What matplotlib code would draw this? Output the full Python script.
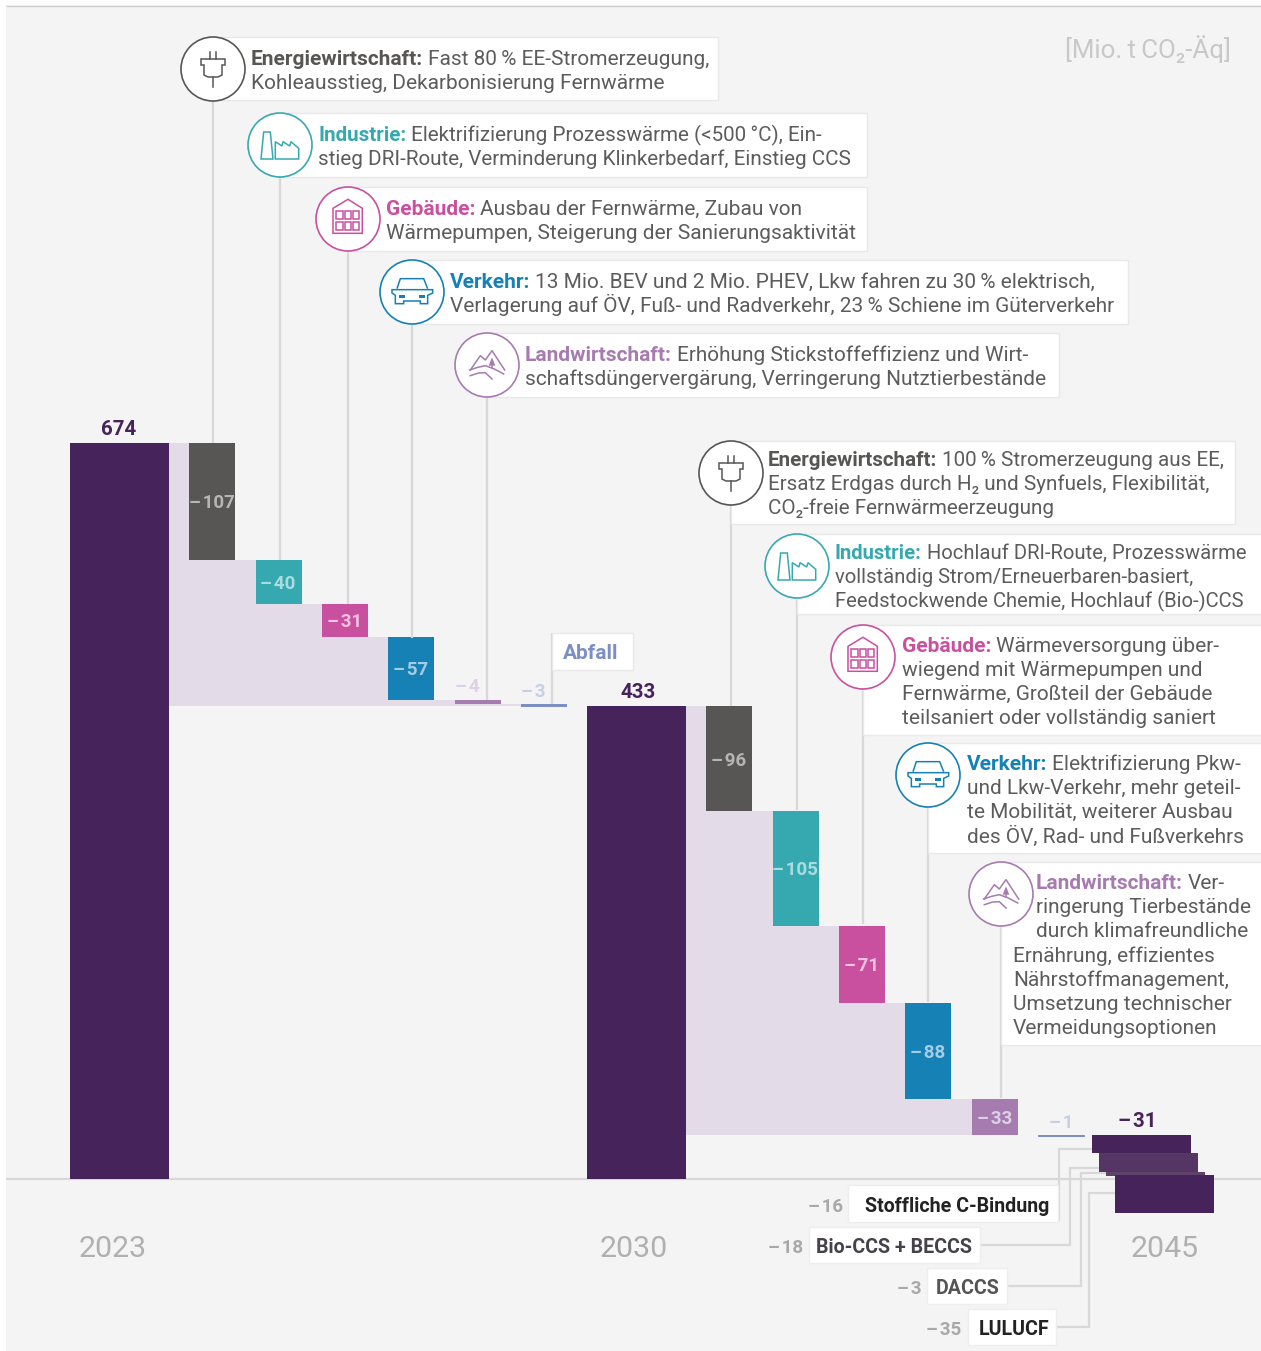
import numpy as np
import matplotlib
matplotlib.use('Agg')
import matplotlib.pyplot as plt
from matplotlib.patches import Circle, Rectangle, Polygon

plt.rcParams['font.family'] = ['Roboto', 'DejaVu Sans']

# values in Mio. t CO2-eq
total_2023 = 674
total_2030 = 433
net_2045 = -31
start_cdr = 40
steps_2030 = [-107, -40, -31, -57, -4, -3]
steps_2045 = [-96, -105, -71, -88, -33, -1]
cdr_values = [-16, -18, -3, -35]
cdr_names = ['Stoffliche C-Bindung', 'Bio-CCS + BECCS', 'DACCS', 'LULUCF']
years = ['2023', '2030', '2045']

PURPLE = '#47235c'
GREY = '#575654'
TEAL = '#36a9b0'
PINK = '#c9509f'
BLUE = '#1581b5'
LILAC = '#a67bb0'
SLATE = '#7c8fc3'
BAND = '#e3dce8'
LINE = '#d8d8d8'
BG = '#f4f4f4'
TXT = '#5c5c5c'
sector_colors = [GREY, TEAL, PINK, BLUE, LILAC, SLATE]
inner_labels = ['#b5b5b3', '#a9dce0', '#efc3df', '#a3cde4', '#ded0e4', '#c6cfe6']
MINUS = '\u2013\u200a'

W, H = 1261, 1351
fig = plt.figure(figsize=(W / 100, H / 100), dpi=100, facecolor='white')

# chart axes: x in pixels, y in Mt
ax = fig.add_axes([0, 0, 1, 1], zorder=2)
Y_SCALE = 736 / 674
ax.set_xlim(0, W)
ax.set_ylim((1179 - H) / Y_SCALE, 1179 / Y_SCALE)
ax.axis('off')

# overlay in pixel coords for callouts
px = fig.add_axes([0, 0, 1, 1], zorder=1)
px.set_xlim(0, W)
px.set_ylim(H, 0)
px.axis('off')
px.add_patch(Rectangle((6, 5), W - 6, H - 5, fc=BG, ec='none', zorder=0))
px.plot([6, W], [5.5, 5.5], color='#d0d0d0', lw=1, zorder=1, solid_capstyle='butt')
px.plot([6, W], [1179, 1179], color=LINE, lw=1.6, zorder=1, solid_capstyle='butt')
note_ax = fig.add_axes([0, 0, 1, 1], zorder=3)
note_ax.set_xlim(0, W)
note_ax.set_ylim(H, 0)
note_ax.axis('off')
note_ax.patch.set_alpha(0)

BAR_W = 46
TOTAL_W = 99


def waterfall(x_total, x_first, total, steps, floor, small_dx):
    ax.bar(x_total, total, TOTAL_W, align='edge', color=PURPLE, zorder=4)
    level = total
    prev_right = x_total + TOTAL_W
    for i, v in enumerate(steps):
        x = x_first + i * 66.4
        ax.bar(prev_right, level - floor, x + BAR_W - prev_right, bottom=floor, align='edge',
               color=BAND, lw=0, zorder=2)
        ax.bar(x, v, BAR_W, bottom=level, align='edge', color=sector_colors[i], zorder=3,
               lw=0.7 if abs(v) < 2 else 0, ec=sector_colors[i])
        mid = level + v / 2
        s = MINUS + str(abs(v))
        if abs(v) > 10:
            ax.annotate(s, (x + BAR_W / 2 - 0.5, mid), xytext=(0, -5), textcoords='offset points',
                        color=inner_labels[i], fontsize=13.5, fontweight='bold',
                        ha='center', va='baseline', zorder=5)
        else:
            ax.annotate(s, (x + BAR_W / 2 + small_dx[i], level), xytext=(0, 5.3), textcoords='offset points',
                        color=inner_labels[i], fontsize=13.5, fontweight='bold', ha='center', va='baseline',
                        zorder=5)
        level += v
        prev_right = x + BAR_W


waterfall(70, 189.1, total_2023, steps_2030, total_2030, [0, 0, 0, 0, -10, -11])
waterfall(587, 706.15, total_2030, steps_2045, start_cdr, [0, 0, 0, 0, 0, 0])

# 2045 stack
cdr_x = [1092, 1099, 1106, 1115]
cdr_colors = [PURPLE, '#553564', '#5f4369', PURPLE]
level = start_cdr
for x, v, c in zip(cdr_x[:3], cdr_values[:3], cdr_colors[:3]):
    ax.bar(x, v, TOTAL_W, bottom=level, align='edge', color=c, lw=0, zorder=4 if v != -3 else 3)
    level += v
ax.bar(cdr_x[3], cdr_values[3], TOTAL_W, bottom=net_2045 - cdr_values[3], align='edge', color=PURPLE, lw=0, zorder=5)

# totals
for s, x, y in [(str(total_2023), 119, total_2023), (str(total_2030), 638, total_2030),
                (MINUS + str(abs(net_2045)), 1137, start_cdr)]:
    ax.annotate(s, (x, y), xytext=(0, 6), textcoords='offset points', ha='center',
                va='baseline', color=PURPLE, fontsize=14.8, fontweight='bold')

for s, x in zip(years, [112.5, 634, 1165]):
    px.text(x, 1257, s, ha='center', va='baseline', color='#b0b0b0', fontsize=21.8)
px.text(1231, 58, '[Mio.\u2009t\u2009CO\u2082-Äq]', ha='right', va='baseline', color='#c8c8c8', fontsize=18.6)


def icon_plug(cx, cy, c):
    pts = [(-12, -10), (12, -10), (12, -4), (9, -4), (9, 6), (5, 8), (-5, 8), (-9, 6), (-9, -4), (-12, -4)]
    note_ax.add_patch(Polygon([(cx + a, cy + b) for a, b in pts], closed=True, fc='none', ec=c, lw=1.1, zorder=6))
    for dx in (-3, 3):
        note_ax.plot([cx + dx, cx + dx], [cy - 17, cy - 10], color=c, lw=1.1, zorder=6)
    note_ax.plot([cx, cx], [cy + 8, cy + 18], color=c, lw=1.1, zorder=6)


def icon_factory(cx, cy, c):
    tall = [(-19, 14), (-16.3, -13), (-9.7, -13), (-7, 14)]
    hall = [(-4.7, 14), (-4.7, -3.3), (2, 1), (3, -3.3), (9.7, 1), (11, -3.3), (18.7, 3.3), (18.7, 14)]
    for pts in (tall, hall):
        note_ax.add_patch(Polygon([(cx + a, cy + b) for a, b in pts], closed=True, fc='none', ec=c, lw=1.1, zorder=6))


def icon_house(cx, cy, c):
    pts = [(-15, 14.3), (-15, -10.7), (0, -19.7), (14.3, -10.7), (14.3, 14.3)]
    note_ax.add_patch(Polygon([(cx + a, cy + b) for a, b in pts], closed=True, fc='none', ec=c, lw=1.1, zorder=6))
    for x0 in (-11.7, -3.5, 4.5):
        for y0 in (-8.3, 2.7):
            note_ax.add_patch(Rectangle((cx + x0, cy + y0), 6.5, 8.3, fc='none', ec=c, lw=1.1, zorder=6))


def icon_car(cx, cy, c):
    roof = [(80, 115), (90, 85), (160, 85), (172, 115)]
    body = [(65, 118), (187, 118), (187, 128), (172, 135), (172, 160), (150, 160), (150, 152), (100, 152),
            (100, 160), (75, 160), (75, 135), (65, 128)]
    conv = lambda p: [(cx + (a - 125) / 3, cy + (b - 125) / 3) for a, b in p]
    note_ax.add_patch(Polygon(conv(roof), closed=False, fc='none', ec=c, lw=1.1, zorder=6))
    note_ax.add_patch(Polygon(conv(body), closed=True, fc='none', ec=c, lw=1.1, zorder=6))
    for lamp in ([(85, 135), (105, 135), (105, 142), (85, 142)], [(147, 135), (165, 135), (165, 142), (147, 142)]):
        note_ax.add_patch(Polygon(conv(lamp), closed=True, fc=c, ec='none', zorder=6))


def icon_hills(cx, cy, c):
    conv = lambda p: ([cx + (a - 350) / 3 for a, b in p], [cy + (b - 343) / 3 for a, b in p])
    for p in ([(300, 358), (330, 315), (345, 328), (365, 300), (403, 358)],
              [(298, 358), (322, 350), (345, 345), (372, 355), (400, 370)],
              [(300, 375), (325, 367), (345, 366), (365, 385)]):
        xs, ys = conv(p)
        note_ax.plot(xs, ys, color=c, lw=1.1, zorder=6)
    xs, ys = conv([(365, 320), (375, 345), (355, 345)])
    note_ax.fill(xs, ys, color=c, lw=0, zorder=6)
    xs, ys = conv([(365, 345), (365, 353)])
    note_ax.plot(xs, ys, color=c, lw=1.1, zorder=6)


def callout(cx, cy, right, top, bottom, end_y, color, icon, head, lines, size=15.05):
    # connector, box, circle, icon and text for one sector note
    note_ax.plot([cx, cx], [cy, end_y], color=LINE, lw=1.6, zorder=4.2, solid_capstyle='butt')
    note_ax.add_patch(Rectangle((cx, top), right - cx, bottom - top, fc='white', ec='#e8e8e8', lw=1, zorder=4.5))
    note_ax.add_patch(Circle((cx, cy), 32, fc='white', ec=color, lw=1.2, zorder=5))
    icon(cx, cy, color)
    for k, (x, base, s) in enumerate(lines):
        if k == 0:
            t = note_ax.text(x, base, head, color=color, fontsize=size, fontweight='bold', va='baseline', zorder=6)
            bb = t.get_window_extent(renderer)
            note_ax.text(bb.x1 + 5, base, s, color=TXT, fontsize=size, va='baseline', zorder=6)
        else:
            note_ax.text(x, base, s, color=TXT, fontsize=size, va='baseline', zorder=6)


TXT_SIZE = 15.05
renderer = fig.canvas.get_renderer()

callout(213, 69, 718, 37, 100, 443, GREY, icon_plug, 'Energiewirtschaft:',
        [(251, 65, 'Fast 80\u2009% EE-Stromerzeugung,'), (251, 89, 'Kohleausstieg, Dekarbonisierung Fernwärme')])
callout(280, 145, 867, 113, 177, 560, TEAL, icon_factory, 'Industrie:',
        [(318, 141, 'Elektrifizierung Prozesswärme (<500\u2009°C), Ein-'),
         (318, 165, 'stieg DRI-Route, Verminderung Klinkerbedarf, Einstieg CCS')], size=14.85)
callout(348, 219, 867, 187, 251, 604, PINK, icon_house, 'Gebäude:',
        [(386, 215, 'Ausbau der Fernwärme, Zubau von'), (386, 239, 'Wärmepumpen, Steigerung der Sanierungsaktivität')])
callout(412, 292, 1128, 260, 324, 638, BLUE, icon_car, 'Verkehr:',
        [(450, 288, '13 Mio. BEV und 2 Mio. PHEV, Lkw fahren zu 30\u2009% elektrisch,'),
         (450, 312, 'Verlagerung auf ÖV, Fuß- und Radverkehr, 23\u2009% Schiene im Güterverkehr')])
callout(487, 365, 1059, 333, 397, 700, LILAC, icon_hills, 'Landwirtschaft:',
        [(525, 361, 'Erhöhung Stickstoffeffizienz und Wirt-'),
         (525, 385, 'schaftsdüngervergärung, Verringerung Nutztierbestände')])
callout(731, 473, 1235, 441, 524, 706, GREY, icon_plug, 'Energiewirtschaft:',
        [(768, 466, '100\u2009% Stromerzeugung aus EE,'), (768, 490, 'Ersatz Erdgas durch H\u2082 und Synfuels, Flexibilität,'),
         (768, 514, 'CO\u2082-freie Fernwärmeerzeugung')], size=14.85)
callout(797, 566, 1262, 534, 614, 810, TEAL, icon_factory, 'Industrie:',
        [(835, 559, 'Hochlauf DRI-Route, Prozesswärme'), (835, 583, 'vollständig Strom/Erneuerbaren-basiert,'),
         (835, 607, 'Feedstockwende Chemie, Hochlauf (Bio-)CCS')], size=14.6)
callout(863, 657, 1262, 625, 735, 924, PINK, icon_house, 'Gebäude:',
        [(902, 652, 'Wärmeversorgung über-'), (902, 676, 'wiegend mit Wärmepumpen und'),
         (902, 700, 'Fernwärme, Großteil der Gebäude'), (902, 724, 'teilsaniert oder vollständig saniert')])
callout(928, 775, 1262, 743, 853, 1002, BLUE, icon_car, 'Verkehr:',
        [(967, 770, 'Elektrifizierung Pkw-'), (967, 794, 'und Lkw-Verkehr, mehr geteil-'),
         (967, 818, 'te Mobilität, weiterer Ausbau'), (967, 843, 'des ÖV, Rad- und Fußverkehrs')])
callout(1001, 894, 1262, 862, 1045, 1098, LILAC, icon_hills, 'Landwirtschaft:',
        [(1036, 889, 'Ver-'), (1036, 913, 'ringerung Tierbestände'), (1036, 937, 'durch klimafreundliche'),
         (1013, 962, 'Ernährung, effizientes'), (1013, 986, 'Nährstoffmanagement,'),
         (1013, 1010, 'Umsetzung technischer'), (1013, 1034, 'Vermeidungsoptionen')])

# Abfall flag
note_ax.plot([552, 552], [633, 704], color=LINE, lw=1.6, zorder=4.2, solid_capstyle='butt')
note_ax.add_patch(Rectangle((552, 633), 81, 37, fc='white', ec='#e8e8e8', lw=1, zorder=4.5))
note_ax.text(591, 659, 'Abfall', color=SLATE, fontsize=TXT_SIZE, fontweight='bold', ha='center', va='baseline', zorder=6)

# removal labels and connectors
box_left = [848, 809, 927, 968]
box_right = [1058, 980, 1007, 1056]
box_top = [1185, 1227, 1268, 1309]
box_bottom = [1222, 1263, 1304, 1345]
text_right = [1049, 972, 1000, 1049]
text_color = ['#222222', '#46424a', '#555555', '#222222']
val_x = [825, 786, 909, 944]
routes = [([1059, 1059, 1092], [1221, 1149, 1149]),
          ([981, 1070, 1070, 1099], [1245, 1245, 1168, 1168]),
          ([1008, 1081, 1081, 1106], [1286, 1286, 1173, 1173]),
          ([1057, 1089, 1089, 1115], [1327, 1327, 1193, 1193])]
for i, name in enumerate(cdr_names):
    xs, ys = routes[i]
    px.plot(xs, ys, color=LINE, lw=1.6, zorder=2, solid_joinstyle='miter', solid_capstyle='butt')
    px.add_patch(Rectangle((box_left[i], box_top[i]), box_right[i] - box_left[i], box_bottom[i] - box_top[i],
                           fc='white', ec='#eeeeee', lw=1, zorder=3))
    base = (box_top[i] + box_bottom[i]) / 2 + 8
    px.text(text_right[i], base, name, color=text_color[i], fontsize=14.1, fontweight='bold',
            ha='right', va='baseline', zorder=4)
    px.text(val_x[i], base, MINUS + str(abs(cdr_values[i])), color='#a8a8a8',
            fontsize=13.5, fontweight='bold', ha='center', va='baseline', zorder=4)

fig.savefig('out.png', dpi=100, facecolor='white')
